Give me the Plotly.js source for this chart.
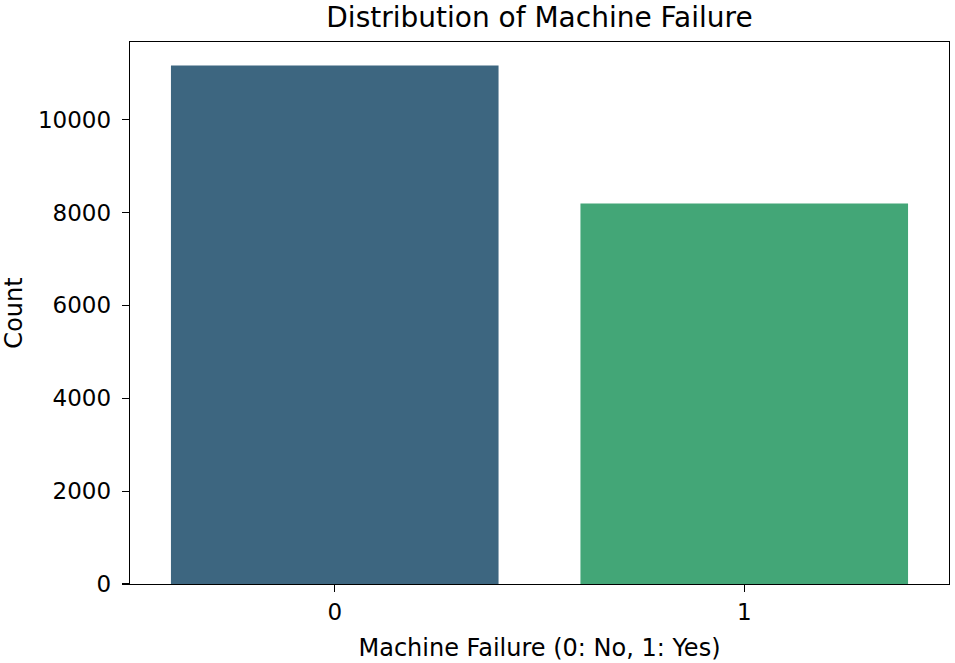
<!DOCTYPE html>
<html>
<head>
<meta charset="utf-8">
<script src="https://cdn.plot.ly/plotly-3.0.1.min.js"></script>
<style>html,body{margin:0;padding:0;background:#fff;}#chart{width:955px;height:663px;}</style>
</head>
<body>
<div id="chart"></div>
<script>
const categories = ["0", "1"];
const counts = [11163, 8195];
const barColors = ["#3d6680", "#43a677"];
const yTicks = [0, 2000, 4000, 6000, 8000, 10000];

const trace = {
  type: "bar",
  x: categories,
  y: counts,
  width: 0.8,
  marker: {color: barColors, line: {width: 0}},
  hoverinfo: "x+y"
};

const layout = {
  width: 955, height: 663,
  margin: {l: 130, r: 6, t: 42, b: 79},
  paper_bgcolor: "#fff", plot_bgcolor: "#fff",
  font: {family: "DejaVu Sans", color: "#000", size: 23},
  title: {text: "Distribution of Machine Failure", font: {size: 28, family: "DejaVu Sans"}, x: 0.5, xanchor: "center", y: 0.974, yanchor: "middle", xref: "paper"},
  xaxis: {
    type: "category", range: [-0.5, 1.5],
    showline: true, linecolor: "#000", linewidth: 1.3, mirror: true,
    ticks: "outside", ticklen: 7, tickcolor: "#000", tickwidth: 1.2, showgrid: false, zeroline: false,
    tickfont: {size: 23},
    automargin: false,
    title: {text: "Machine Failure (0: No, 1: Yes)", font: {size: 24}, standoff: 15}
  },
  yaxis: {
    range: [0, 11670], tickvals: yTicks, ticktext: yTicks.map(String),
    showline: true, linecolor: "#000", linewidth: 1.3, mirror: true,
    ticks: "outside", ticklen: 7, tickcolor: "#000", tickwidth: 1.2, showgrid: false, zeroline: false,
    tickfont: {size: 23}, ticklabelstandoff: 6,
    automargin: false,
    title: {text: "Count", font: {size: 24}, standoff: 10}
  },
  showlegend: false
};

Plotly.newPlot("chart", [trace], layout, {displayModeBar: false, staticPlot: true});
</script>
</body>
</html>
